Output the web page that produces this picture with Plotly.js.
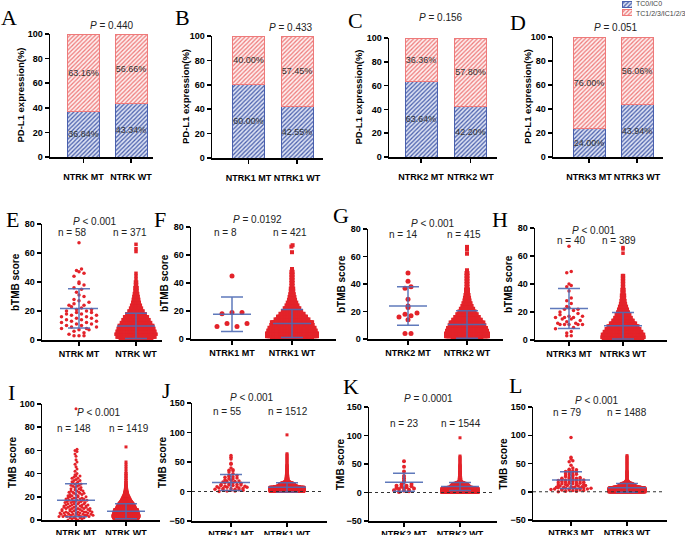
<!DOCTYPE html>
<html>
<head>
<meta charset="utf-8">
<script src="https://cdn.plot.ly/plotly-3.0.1.min.js"></script>
<style>
  body { margin: 0; background: #fff; }
  #plot { width: 685px; height: 535px; }
</style>
</head>
<body>
<div id="plot"></div>
<script>
// ---------- values ----------
var groupLabels = [
  ['NTRK MT', 'NTRK WT'], ['NTRK1 MT', 'NTRK1 WT'],
  ['NTRK2 MT', 'NTRK2 WT'], ['NTRK3 MT', 'NTRK3 WT']
];

// A-D: PD-L1 expression (%), [MT, WT]
var tc0Share = [[36.84, 43.34], [60.00, 42.55], [63.64, 42.20], [24.00, 43.94]];
var tc123Share = [[63.16, 56.66], [40.00, 57.45], [36.36, 57.80], [76.00, 56.06]];
var pdl1P = ['= 0.440', '= 0.433', '= 0.156', '= 0.051'];
var legendNames = ['TC0/IC0', 'TC1/2/3/IC1/2/3'];

// E-H: bTMB score
var bTmbP = ['< 0.001', '= 0.0192', '< 0.001', '< 0.001'];
var bTmbN = [[58, 371], [8, 421], [14, 415], [40, 389]];
var bTmbMean = [[21.8, 9.7], [17.7, 11], [24, 10.5], [22.5, 10.2]];
var bTmbSd = [[13.5, 8.7], [12.3, 10], [14, 10], [14.2, 9.5]];

// I-L: TMB score
var tmbP = ['< 0.001', '< 0.001', '= 0.0001', '< 0.001'];
var tmbN = [[148, 1419], [55, 1512], [23, 1544], [79, 1488]];
var tmbMean = [[17, 7.5], [15.3, 7], [18, 10.5], [20.6, 7]];
var tmbSd = [[14.3, 6.5], [13.7, 8], [15.7, 7], [14.7, 7.7]];

// individual points (MT) and value/count tables (dense groups)
var eMt = [67, 49, 48, 47, 46, 44, 40, 39, 38, 36, 35, 33, 31, 30, 28, 27, 26, 25, 24, 24,
  23, 22, 21, 21, 20, 20, 19, 19, 18, 18, 17, 17, 16, 16, 15, 15, 14, 14, 13, 13,
  12, 12, 11, 11, 10, 10, 9, 9, 8, 8, 7, 7, 6, 5, 4, 3, 3, 3];
var eWtVal = [0, 2, 4, 6, 8, 10, 12, 14, 16, 18, 20, 22, 24, 26, 28, 30, 32, 34, 36, 38, 40, 42, 44, 46, 61, 63, 66];
var eWtCnt = [30, 36, 38, 36, 34, 32, 28, 25, 22, 18, 14, 11, 9, 7, 6, 5, 4, 3, 3, 2, 2, 1, 1, 1, 1, 1, 1];

var fMt = [45, 19, 19, 18, 11, 11, 9, 9];
var fWtVal = [0, 2, 4, 6, 8, 10, 12, 14, 16, 18, 20, 22, 24, 26, 28, 30, 32, 34, 36, 38, 40, 42, 44, 46, 48, 50, 62, 66, 67];
var fWtCnt = [34, 42, 42, 40, 38, 35, 34, 28, 24, 20, 16, 13, 10, 8, 6, 5, 4, 3, 3, 2, 2, 2, 2, 2, 2, 1, 1, 1, 1];

var gMt = [48, 42, 38, 37, 29, 24, 23, 19, 18, 17, 16, 14, 4, 4];
var gWtVal = [0, 2, 4, 6, 8, 10, 12, 14, 16, 18, 20, 22, 24, 26, 28, 30, 32, 34, 36, 38, 40, 42, 44, 46, 48, 50, 62, 65, 67];
var gWtCnt = [29, 42, 42, 40, 38, 35, 33, 28, 24, 20, 16, 13, 10, 8, 6, 5, 4, 3, 3, 2, 2, 2, 2, 2, 2, 1, 1, 1, 1];

var hMt = [67, 49, 48, 40, 39, 38, 35, 30, 28, 26, 24, 23, 22, 22, 21, 20, 19, 18, 17, 17,
  16, 16, 16, 15, 15, 14, 13, 12, 12, 11, 11, 11, 11, 11, 9, 8, 6, 5, 3, 3];
var hWtVal = [0, 2, 4, 6, 8, 10, 12, 14, 16, 18, 20, 22, 24, 26, 28, 30, 32, 34, 36, 38, 40, 42, 44, 46, 62, 65, 66];
var hWtCnt = [42, 45, 44, 40, 36, 32, 27, 22, 18, 15, 12, 10, 8, 6, 5, 4, 4, 3, 3, 2, 2, 2, 2, 2, 1, 1, 1];

var iMtVal = [0, 1, 2, 3, 4, 5, 6, 7, 8, 9, 10, 11, 12, 13, 14, 15, 16, 17, 18, 19,
  20, 21, 22, 23, 24, 25, 26, 27, 28, 29, 30, 31, 32, 33, 34, 35, 36, 37, 38, 39, 40,
  42, 44, 46, 48, 50, 52, 55, 57, 59, 60, 61, 96];
var iMtCnt = [2, 3, 4, 6, 6, 6, 6, 6, 5, 5, 5, 5, 5, 4, 4, 4, 4, 4, 4, 4,
  3, 3, 3, 3, 3, 3, 2, 2, 2, 2, 2, 2, 2, 2, 2, 1, 2, 1, 2, 1, 1,
  1, 1, 1, 1, 1, 1, 1, 1, 1, 1, 1, 1];
var iWtVal = [0, 1, 2, 3, 4, 5, 6, 7, 8, 9, 10, 11, 12, 13, 14, 15, 16, 17, 18, 19,
  20, 21, 22, 23, 24, 25, 26, 27, 28, 29, 30, 32, 34, 36, 38, 40, 42, 44, 46, 48, 50, 63];
var iWtCnt = [68, 83, 88, 92, 92, 88, 86, 84, 82, 79, 68, 64, 60, 55, 50, 44, 38, 33, 28, 24,
  20, 16, 13, 11, 9, 7, 6, 5, 4, 4, 3, 3, 2, 2, 2, 2, 1, 1, 1, 1, 1, 1];

var jMt = [61, 58, 55, 48, 46, 40, 37, 36, 35, 33, 30, 28, 27, 26, 25, 24, 23, 22, 21, 20,
  19, 18, 18, 17, 16, 15, 15, 14, 13, 12, 12, 11, 11, 10, 10, 9, 9, 8, 8, 7,
  7, 6, 6, 5, 5, 5, 4, 4, 3, 3, 2, 2, 1, 1, 0];
var jWtVal = [0, 1, 2, 3, 4, 5, 6, 7, 8, 9, 10, 11, 12, 13, 14, 15, 16, 17, 18, 19,
  20, 22, 24, 26, 28, 30, 32, 34, 36, 38, 40, 42, 44, 46, 48, 50, 52, 54, 56, 58, 60, 62, 64, 96];
var jWtCnt = [116, 120, 120, 120, 120, 120, 120, 120, 90, 70, 60, 55, 52, 48, 40, 30, 20, 12, 8, 6,
  8, 7, 6, 6, 5, 4, 4, 3, 3, 2, 2, 2, 2, 1, 1, 1, 1, 1, 1, 1, 1, 1, 1, 1];

var kMt = [55, 45, 37, 29, 25, 21, 18, 15, 14, 12, 12, 11, 10, 9, 8, 7, 7, 6, 5, 4, 3, 2, 1];
var kWtVal = [0, 1, 2, 3, 4, 5, 6, 7, 8, 9, 10, 11, 12, 13, 14, 15, 16, 17, 18, 19,
  20, 22, 24, 26, 28, 30, 32, 34, 36, 38, 40, 42, 44, 46, 48, 50, 52, 54, 56, 58, 60, 62, 64, 96];
var kWtCnt = [114, 114, 114, 114, 114, 114, 114, 114, 95, 75, 62, 58, 55, 52, 48, 42, 34, 24, 14, 8,
  6, 6, 5, 5, 4, 4, 3, 3, 3, 2, 2, 2, 2, 2, 2, 1, 1, 1, 1, 1, 1, 1, 1, 1];

var lMt = [96, 61, 58, 55, 53, 47, 42, 40, 39, 38, 37, 36, 35, 34, 33, 32, 31, 30, 29, 28,
  27, 26, 25, 25, 24, 24, 23, 23, 22, 22, 21, 21, 20, 20, 19, 19, 18, 18, 17, 17,
  16, 16, 15, 15, 14, 14, 13, 13, 12, 12, 11, 11, 10, 10, 9, 9, 8, 8, 8, 7,
  7, 7, 6, 6, 6, 5, 5, 5, 4, 4, 4, 3, 3, 3, 2, 2, 1, 1, 0];
var lWtVal = [0, 1, 2, 3, 4, 5, 6, 7, 8, 9, 10, 11, 12, 13, 14, 15, 16, 17, 18, 19,
  20, 22, 24, 26, 28, 30, 32, 34, 36, 38, 40, 42, 44, 46, 48, 50, 52, 54, 56, 58, 60, 62, 64];
var lWtCnt = [123, 123, 123, 123, 123, 123, 123, 118, 90, 70, 58, 54, 50, 45, 38, 28, 18, 12, 8, 6,
  2, 2, 2, 2, 2, 2, 2, 2, 2, 1, 1, 1, 1, 1, 1, 1, 1, 1, 1, 1, 1, 1, 1];

// ---------- layout helpers ----------
var W = 685, H = 535;
var FONT = 'Liberation Sans, Arial, sans-serif';
var SERIF = 'Liberation Serif, Times New Roman, serif';
var RED = '#e3232a';
var MEANCOL = 'rgba(78,106,180,0.9)';
var BLUE_HATCH = ['#4a60ad', '#dde2f3'];
var RED_HATCH = ['#ee7a7a', '#fdf0f0'];

// panel boxes in pixels: axis left/right, top/bottom, and the two group centres
var boxes = [
  {x0: 50, x1: 153, top: 34, bot: 157, c0: 83.5, c1: 131},
  {x0: 212, x1: 323, top: 36, bot: 158, c0: 248.5, c1: 297},
  {x0: 389, x1: 497, top: 38, bot: 157, c0: 421, c1: 470.5},
  {x0: 553, x1: 663, top: 37, bot: 157, c0: 589, c1: 637},
  {x0: 42, x1: 162, top: 224, bot: 340, c0: 79, c1: 136},
  {x0: 191, x1: 336, top: 227, bot: 339, c0: 232, c1: 292},
  {x0: 368, x1: 503, top: 229, bot: 339, c0: 408, c1: 467},
  {x0: 535, x1: 667, top: 228, bot: 340, c0: 569, c1: 623},
  {x0: 42, x1: 160, top: 404, bot: 520, c0: 76, c1: 126},
  {x0: 192, x1: 327, top: 403, bot: 521, c0: 231, c1: 287},
  {x0: 369, x1: 497, top: 407, bot: 521, c0: 404, c1: 460},
  {x0: 533, x1: 667, top: 407, bot: 520, c0: 571, c1: 627}
];
var yRanges = [[0, 100], [0, 100], [0, 100], [0, 100], [0, 80], [0, 80], [0, 80], [0, 80],
  [0, 100], [-50, 150], [-50, 150], [-50, 150]];
var yTicks = [[0, 20, 40, 60, 80, 100], [0, 20, 40, 60, 80, 100], [0, 20, 40, 60, 80, 100], [0, 20, 40, 60, 80, 100],
  [0, 20, 40, 60, 80], [0, 20, 40, 60, 80], [0, 20, 40, 60, 80], [0, 20, 40, 60, 80],
  [0, 20, 40, 60, 80, 100], [-50, 0, 50, 100, 150], [-50, 0, 50, 100, 150], [-50, 0, 50, 100, 150]];

function fx(p) { return p / W; }
function fy(p) { return 1 - p / H; }
function suffix(i) { return i === 0 ? '' : String(i + 1); }

function expand(vals, counts) {
  var out = [];
  vals.forEach(function (v, i) { for (var k = 0; k < counts[i]; k++) out.push(v); });
  return out;
}

// scatter-dot layout: points in one value row sit side by side; the column
// shares one spacing, squeezed when its widest row would pass halfPx.
// Slots inside a row are handed out in a golden-ratio order so rows don't slant.
function swarm(values, center, unitX, opt) {
  var rows = {};
  values.slice().sort(function (a, c) { return a - c; }).forEach(function (v) {
    var k = Math.floor(v / opt.row + 1e-9);
    (rows[k] = rows[k] || []).push(v);
  });
  var nMax = 1;
  Object.keys(rows).forEach(function (k) { nMax = Math.max(nMax, rows[k].length); });
  var step = Math.min(opt.step, 2 * opt.half / Math.max(nMax - 1, 1)) / unitX;
  var xs = [], ys = [];
  Object.keys(rows).forEach(function (k) {
    var r = rows[k], n = r.length;
    var order = r.map(function (v, j) { return {v: v, key: (j * 0.618034) % 1}; })
      .sort(function (a, c) { return a.key - c.key; });
    order.forEach(function (o, pos) { xs.push(center + (pos - (n - 1) / 2) * step); ys.push(o.v); });
  });
  return {x: xs, y: ys};
}

var traces = [];
var layout = {
  width: W, height: H, margin: {l: 0, r: 0, t: 0, b: 0},
  paper_bgcolor: '#fff', plot_bgcolor: 'rgba(0,0,0,0)',
  font: {family: FONT, color: '#000'},
  barmode: 'stack', showlegend: false,
  annotations: [], shapes: []
};

// axes
boxes.forEach(function (b, i) {
  var s = suffix(i), u = b.c1 - b.c0, row = Math.floor(i / 4);
  layout['xaxis' + s] = {
    domain: [fx(b.x0), fx(b.x1)], anchor: 'y' + s,
    range: [-(b.c0 - b.x0) / u, 1 + (b.x1 - b.c1) / u],
    tickvals: [0, 1], ticktext: groupLabels[i % 4], tickangle: 0,
    showline: true, linecolor: '#000', linewidth: 1.5,
    ticks: 'outside', ticklen: 4, tickwidth: 1.5, tickcolor: '#000',
    ticklabelstandoff: row === 0 ? 7 : (row === 1 ? 1 : 0),
    showgrid: false, zeroline: false, fixedrange: true,
    tickfont: {family: FONT, size: 9, color: '#000', weight: 'bold'}
  };
  layout['yaxis' + s] = {
    domain: [fy(b.bot), fy(b.top)], anchor: 'x' + s,
    range: yRanges[i], tickvals: yTicks[i],
    showline: true, linecolor: '#000', linewidth: 1.5,
    ticks: 'outside', ticklen: 4, tickwidth: 1.5, tickcolor: '#000',
    showgrid: false, zeroline: false, fixedrange: true,
    tickfont: {family: FONT, size: 9, color: '#000', weight: 'bold'}
  };
});

function hatch(c) {
  return {color: c[1], line: {color: c[0], width: 1},
    pattern: {shape: '/', fillmode: 'replace', fgcolor: c[0], bgcolor: c[1], size: 3, solidity: 0.42}};
}

// A-D stacked hatched bars
for (var p = 0; p < 4; p++) {
  var s = suffix(p), u = boxes[p].c1 - boxes[p].c0;
  [[tc0Share, BLUE_HATCH], [tc123Share, RED_HATCH]].forEach(function (d) {
    traces.push({
      type: 'bar', x: [0, 1], y: d[0][p], xaxis: 'x' + s, yaxis: 'y' + s,
      width: 32 / u, marker: hatch(d[1]),
      text: d[0][p].map(function (v) { return v.toFixed(2) + '%'; }),
      textposition: 'inside', insidetextanchor: 'middle', constraintext: 'none', textangle: 0,
      textfont: {family: FONT, size: 9, color: '#333'}, hoverinfo: 'skip'
    });
  });
}

// legend swatches (small extra axis at the top right)
layout.xaxis13 = {domain: [fx(622), fx(632)], anchor: 'y13', range: [0, 1], visible: false, fixedrange: true};
layout.yaxis13 = {domain: [fy(17), fy(0)], anchor: 'x13', range: [-0.5, 1.5], visible: false, fixedrange: true};
[BLUE_HATCH, RED_HATCH].forEach(function (c, k) {
  traces.push({type: 'bar', orientation: 'h', x: [1], y: [1 - k], width: 0.75,
    xaxis: 'x13', yaxis: 'y13', marker: hatch(c), hoverinfo: 'skip'});
});

// E-L scatter dot plots with mean +/- SD
var swarmSets = [
  {mt: eMt, wt: expand(eWtVal, eWtCnt),
    opt: [{row: 4, step: 5, half: 20, size: 3.5}, {row: 2, step: 3.5, half: 20, size: 3.5}]},
  {mt: fMt, wt: expand(fWtVal, fWtCnt),
    opt: [{row: 4, step: 10, half: 17, size: 5}, {row: 2, step: 4, half: 25, size: 4}]},
  {mt: gMt, wt: expand(gWtVal, gWtCnt),
    opt: [{row: 4, step: 6, half: 12, size: 5}, {row: 2, step: 4, half: 21, size: 4}]},
  {mt: hMt, wt: expand(hWtVal, hWtCnt),
    opt: [{row: 4, step: 4.5, half: 16, size: 3.5}, {row: 2, step: 3.5, half: 21, size: 3.5}]},
  {mt: expand(iMtVal, iMtCnt), wt: expand(iWtVal, iWtCnt),
    opt: [{row: 3, step: 3, half: 17, size: 3}, {row: 1, step: 3, half: 13, size: 3}]},
  {mt: jMt, wt: expand(jWtVal, jWtCnt),
    opt: [{row: 4, step: 4, half: 17, size: 3.5}, {row: 1, step: 3, half: 17, size: 3}]},
  {mt: kMt, wt: expand(kWtVal, kWtCnt),
    opt: [{row: 4, step: 5, half: 17, size: 4}, {row: 1, step: 3, half: 18, size: 3}]},
  {mt: lMt, wt: expand(lWtVal, lWtCnt),
    opt: [{row: 4, step: 4, half: 20, size: 3.5}, {row: 1, step: 3, half: 18, size: 3}]}
];

swarmSets.forEach(function (set, q) {
  var i = q + 4, s = suffix(i), b = boxes[i], u = b.c1 - b.c0;
  var mean = q < 4 ? bTmbMean[q] : tmbMean[q - 4];
  var sd = q < 4 ? bTmbSd[q] : tmbSd[q - 4];
  [set.mt, set.wt].forEach(function (vals, g) {
    var o = set.opt[g];
    var pts = swarm(vals, g, u, o);
    traces.push({
      type: 'scatter', mode: 'markers', x: pts.x, y: pts.y, xaxis: 'x' + s, yaxis: 'y' + s,
      hoverinfo: 'skip',
      marker: {symbol: g ? 'square' : 'circle', size: o.size, color: RED, line: {width: 0}}
    });
  });
  traces.push({
    type: 'scatter', mode: 'markers', x: [0, 1], y: mean, xaxis: 'x' + s, yaxis: 'y' + s,
    hoverinfo: 'skip',
    marker: {symbol: 'line-ew', size: 38 / 1.4, color: MEANCOL, line: {color: MEANCOL, width: 1.5}},
    error_y: {type: 'data', array: sd, visible: true, color: MEANCOL, thickness: 1.5, width: 11}
  });
  if (q >= 5) {
    layout.shapes.push({type: 'line', xref: 'x' + s + ' domain', yref: 'y' + s,
      x0: 0, x1: 0.97, y0: 0, y1: 0, line: {color: '#333', width: 1, dash: 'dot'}});
  }
});

// text
function note(text, x, y, size, extra) {
  var a = {text: text, x: fx(x), y: fy(y), xref: 'paper', yref: 'paper',
    xanchor: 'center', yanchor: 'middle', showarrow: false,
    font: {family: FONT, size: size, color: '#222'}};
  for (var k in extra) a[k] = extra[k];
  layout.annotations.push(a);
}

legendNames.forEach(function (t, k) {
  note(t, 634, 3.5 + 10 * k, 7, {xanchor: 'left', font: {family: FONT, size: 7, color: '#444'}});
});

var letters = ['A', 'B', 'C', 'D', 'E', 'F', 'G', 'H', 'I', 'J', 'K', 'L'];
var letterPos = [[8.5, 17.5], [183, 17.5], [355, 20], [517.5, 22], [12.5, 219], [160, 219],
  [341, 216], [500, 219], [11, 392], [166, 390], [351, 386], [515, 385]];
letters.forEach(function (t, i) {
  note(t, letterPos[i][0], letterPos[i][1], 22, {font: {family: SERIF, size: 22, color: '#000'}});
});

var titleX = [20, 186, 358, 528, 15, 164, 341, 508, 12, 162, 340, 503];
var titles = ['PD-L1 expression(%)', 'bTMB score', 'TMB score'];
boxes.forEach(function (b, i) {
  var row = Math.floor(i / 4), fs = row === 0 ? 9.5 : 10;
  note(titles[row], titleX[i], (b.top + b.bot) / 2, fs,
    {textangle: -90, font: {family: FONT, size: fs, color: '#000', weight: 'bold'}});
});

var pPos = [[112, 25], [291, 27], [441, 17], [616, 27], [95, 221], [257, 219], [433, 223], [594, 230],
  [99, 412], [252, 397], [428, 398], [597, 400]];
var nPos = [[72, 130, 232], [226, 290, 232], [403, 464, 234], [571, 619, 240],
  [74, 129, 428], [227, 288, 411], [404, 461, 423], [567, 627, 412]];
pdl1P.concat(bTmbP, tmbP).forEach(function (t, i) { note('<i>P</i> ' + t, pPos[i][0], pPos[i][1], 10); });
bTmbN.concat(tmbN).forEach(function (n, q) {
  note('n = ' + n[0], nPos[q][0], nPos[q][2], 10);
  note('n = ' + n[1], nPos[q][1], nPos[q][2], 10);
});

Plotly.newPlot('plot', traces, layout, {displayModeBar: false, staticPlot: true});
</script>
</body>
</html>
